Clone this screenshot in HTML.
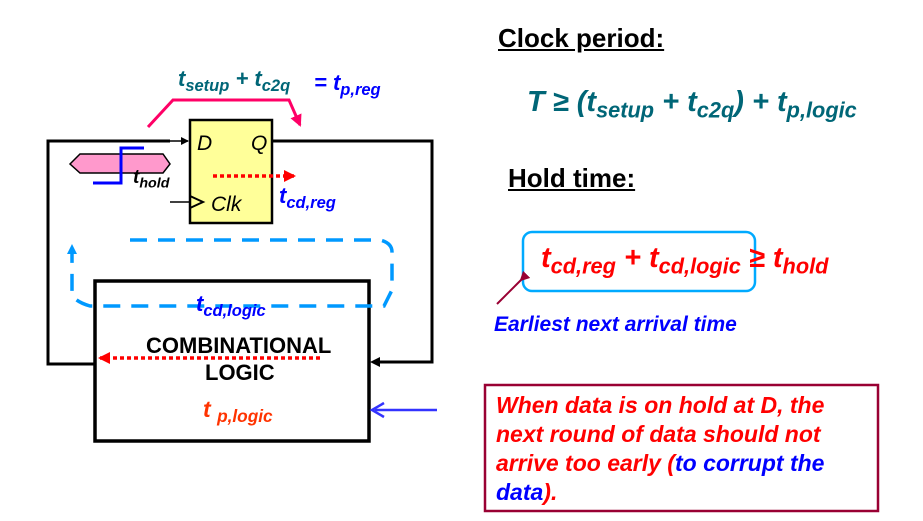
<!DOCTYPE html>
<html><head><meta charset="utf-8"><style>
body{margin:0;background:#fff;width:923px;height:521px;overflow:hidden;position:relative;font-family:"Liberation Sans",sans-serif}
.t{position:absolute;font-weight:bold;font-style:italic;white-space:nowrap}
sub{font-size:0.75em;vertical-align:-0.3em}
</style></head><body>
<svg width="923" height="521" style="position:absolute;left:0;top:0">
<defs>
<marker id="ab" markerWidth="8" markerHeight="8" refX="7" refY="4" orient="auto" markerUnits="userSpaceOnUse"><path d="M0,0L8,4L0,8z" fill="#000"/></marker>
<marker id="ar" markerWidth="12" markerHeight="12" refX="10" refY="6" orient="auto" markerUnits="userSpaceOnUse"><path d="M0,0L12,6L0,12z" fill="#f00"/></marker>
<marker id="ap" markerWidth="12" markerHeight="12" refX="10" refY="6" orient="auto" markerUnits="userSpaceOnUse"><path d="M0,0L12,6L0,12z" fill="#f06"/></marker>
<marker id="am" markerWidth="10" markerHeight="10" refX="8" refY="5" orient="auto" markerUnits="userSpaceOnUse"><path d="M0,0L10,5L0,10z" fill="#903"/></marker>
</defs>
<g fill="none" stroke="#000" stroke-width="3">
<polyline points="95,364 48,364 48,141 170,141"/>
<polyline points="272,141 432,141 432,362 380,362"/>
</g>
<line x1="160" y1="141" x2="188" y2="141" stroke="#000" stroke-width="1.5" marker-end="url(#ab)"/>
<path d="M370,362 L380,357 L380,367z" fill="#000"/>
<rect x="190" y="120" width="82" height="103" fill="#ffff99" stroke="#000" stroke-width="2.5"/>
<line x1="170" y1="202" x2="190" y2="202" stroke="#000" stroke-width="1.5"/>
<polyline points="190,196 203,202 190,208" fill="none" stroke="#000" stroke-width="2"/>
<rect x="95" y="281" width="274" height="160" fill="#fff" stroke="#000" stroke-width="3.5"/>
<polyline points="148,127 173,100 289,100 300,125" fill="none" stroke="#f06" stroke-width="3" marker-end="url(#ap)"/>
<line x1="213" y1="176" x2="294" y2="176" stroke="#f00" stroke-width="3.5" stroke-dasharray="4,3" marker-end="url(#ar)"/>
<line x1="320" y1="358" x2="100" y2="358" stroke="#f00" stroke-width="3.5" stroke-dasharray="4,3" marker-end="url(#ar)"/>
<path d="M130,240 L380,240 Q392,243 392,252 L392,290 L384,306 L90,306 Q76,302 72,295 L72,252" fill="none" stroke="#09f" stroke-width="3.5" stroke-dasharray="17,11"/>
<path d="M72,244 L67,254 L77,254z" fill="#09f"/>
<polygon points="70,164 80,154 163,154 170,164 163,173 80,173" fill="#f9c" stroke="#000" stroke-width="1.5"/>
<polyline points="93,183 121,183 121,148 144,148" fill="none" stroke="#00f" stroke-width="3"/>
<line x1="437" y1="410" x2="375" y2="410" stroke="#33f" stroke-width="2.5"/>
<polyline points="384,403 372,410 384,417" fill="none" stroke="#33f" stroke-width="2.5"/>
<rect x="523" y="232" width="232" height="59" rx="9" fill="none" stroke="#0af" stroke-width="2.5"/>
<line x1="521" y1="280" x2="497" y2="304" stroke="#903" stroke-width="2" marker-start="url(#am)"/>
<rect x="485" y="385" width="393" height="126" fill="#fff" stroke="#903" stroke-width="2.5"/>
</svg>
<div class="t" style="left:197px;top:132px;font-size:21px;font-weight:normal">D</div>
<div class="t" style="left:251px;top:132px;font-size:21px;font-weight:normal">Q</div>
<div class="t" style="left:211px;top:193px;font-size:21px;font-weight:normal">Clk</div>
<div class="t" style="left:178px;top:66px;font-size:22px;color:#067">t<sub>setup</sub> + t<sub>c2q</sub></div>
<div class="t" style="left:314px;top:70px;font-size:22px;color:#00f">= t<sub>p,reg</sub></div>
<div class="t" style="left:133px;top:167px;font-size:19px">t<sub>hold</sub></div>
<div class="t" style="left:279px;top:183px;font-size:22px;color:#00f">t<sub>cd,reg</sub></div>
<div class="t" style="left:196px;top:291px;font-size:22px;color:#00f">t<sub>cd,logic</sub></div>
<div class="t" style="left:146px;top:333px;font-size:22px;font-style:normal">COMBINATIONAL</div>
<div class="t" style="left:205px;top:360px;font-size:22px;font-style:normal">LOGIC</div>
<div class="t" style="left:203px;top:396px;font-size:23px;color:#f30">t <sub>p,logic</sub></div>
<div class="t" style="left:498px;top:23px;font-size:26px;font-style:normal;text-decoration:underline">Clock period:</div>
<div class="t" style="left:527px;top:86px;font-size:29px;color:#067">T ≥ (t<sub>setup</sub> + t<sub>c2q</sub>) + t<sub>p,logic</sub></div>
<div class="t" style="left:508px;top:163px;font-size:26px;font-style:normal;text-decoration:underline">Hold time:</div>
<div class="t" style="left:541px;top:242px;font-size:29px;color:#f00">t<sub>cd,reg</sub> + t<sub>cd,logic</sub> ≥ t<sub>hold</sub></div>
<div class="t" style="left:494px;top:313px;font-size:21px;color:#00f">Earliest next arrival time</div>
<div class="t" style="left:496px;top:391px;font-size:23px;color:#f00;line-height:29px">When data is on hold at D, the<br>next round of data should not<br>arrive too early (<span style="color:#00f">to corrupt the</span><br><span style="color:#00f">data</span>).</div>
</body></html>
